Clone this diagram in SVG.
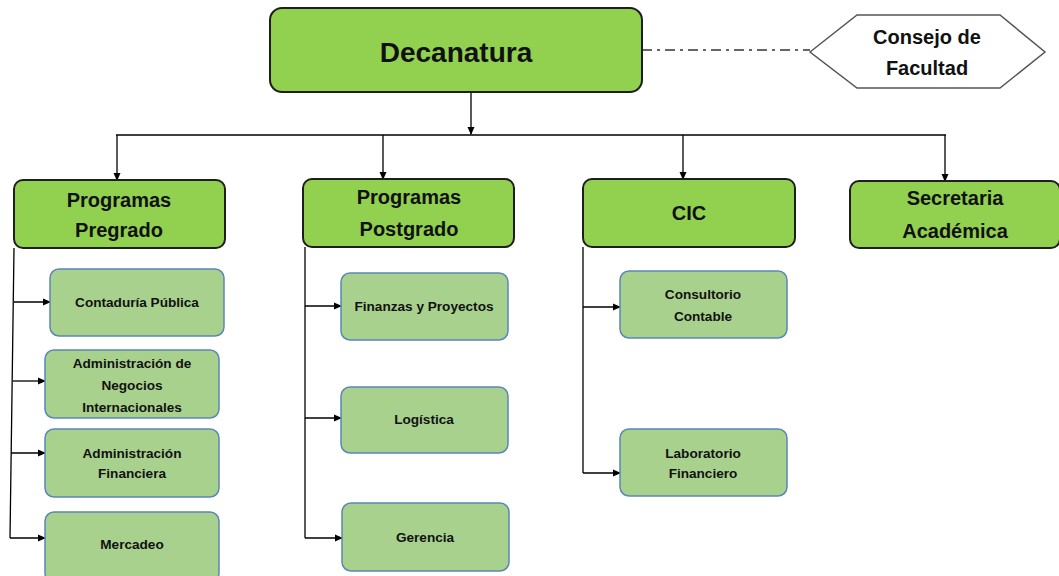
<svg xmlns="http://www.w3.org/2000/svg" width="1059" height="576" viewBox="0 0 1059 576">
<style>
.main{fill:#92d050;stroke:#1e1e1e;stroke-width:2}
.sub{fill:#a9d18e;stroke:#5b87b8;stroke-width:1.5}
.hex{fill:#ffffff;stroke:#555555;stroke-width:1.5}
text{font-family:"Liberation Sans",Arial,sans-serif;font-weight:bold;fill:#111;text-anchor:middle}
.t28{font-size:28px}
.t20{font-size:20px}
.t13{font-size:13.6px}
.c{fill:none;stroke:#000;stroke-width:1.3}
.dd{fill:none;stroke:#666;stroke-width:2;stroke-dasharray:10 5 3 5}
</style>
<defs>
<marker id="ah" markerWidth="8" markerHeight="8" refX="7" refY="4" orient="auto" markerUnits="userSpaceOnUse">
<path d="M0,0.5 L8,4 L0,7.5 Z" fill="#000"/>
</marker>
</defs>
<g id="connectors">
<line class="dd" x1="642" y1="50" x2="810" y2="50"/>
<line class="c" x1="471" y1="92" x2="471" y2="134" marker-end="url(#ah)"/>
<line class="c" x1="116" y1="135" x2="946" y2="135"/>
<line class="c" x1="117" y1="135" x2="117" y2="180" marker-end="url(#ah)"/>
<line class="c" x1="383" y1="135" x2="383" y2="179" marker-end="url(#ah)"/>
<line class="c" x1="683" y1="135" x2="683" y2="179" marker-end="url(#ah)"/>
<line class="c" x1="945" y1="135" x2="945" y2="181" marker-end="url(#ah)"/>
<polyline class="c" points="14,248 10,538"/>
<line class="c" x1="14" y1="302" x2="50" y2="302" marker-end="url(#ah)"/>
<line class="c" x1="13" y1="381" x2="45" y2="381" marker-end="url(#ah)"/>
<line class="c" x1="11" y1="453" x2="45" y2="453" marker-end="url(#ah)"/>
<line class="c" x1="10" y1="538" x2="45" y2="538" marker-end="url(#ah)"/>
<line class="c" x1="305" y1="247" x2="305" y2="538"/>
<line class="c" x1="305" y1="306" x2="341" y2="306" marker-end="url(#ah)"/>
<line class="c" x1="305" y1="418" x2="341" y2="418" marker-end="url(#ah)"/>
<line class="c" x1="305" y1="538" x2="342" y2="538" marker-end="url(#ah)"/>
<line class="c" x1="583" y1="247" x2="583" y2="473"/>
<line class="c" x1="583" y1="307" x2="620" y2="307" marker-end="url(#ah)"/>
<line class="c" x1="583" y1="473" x2="620" y2="473" marker-end="url(#ah)"/>
</g>
<g id="decanatura">
<rect class="main" x="270" y="8" width="372" height="84" rx="12"/>
<text class="t28" x="456" y="62">Decanatura</text>
</g>
<g id="consejo">
<polygon class="hex" points="810,52 857,15 1000,15 1045,52 1000,88 857,88"/>
<text class="t20" x="927" y="44">Consejo de</text>
<text class="t20" x="927" y="75">Facultad</text>
</g>
<g id="pregrado">
<rect class="main" x="14" y="180" width="211" height="68" rx="9"/>
<text class="t20" x="119" y="207">Programas</text>
<text class="t20" x="119" y="237">Pregrado</text>
</g>
<g id="postgrado">
<rect class="main" x="303" y="179" width="211" height="68" rx="9"/>
<text class="t20" x="409" y="204">Programas</text>
<text class="t20" x="409" y="236">Postgrado</text>
</g>
<g id="cic">
<rect class="main" x="583" y="179" width="212" height="68" rx="9"/>
<text class="t20" x="689" y="220">CIC</text>
</g>
<g id="secretaria">
<rect class="main" x="850" y="181" width="210" height="67" rx="9"/>
<text class="t20" x="955" y="205">Secretaria</text>
<text class="t20" x="955" y="238">Académica</text>
</g>
<g id="contaduria">
<rect class="sub" x="50" y="269" width="174" height="67" rx="9"/>
<text class="t13" x="137" y="307">Contaduría Pública</text>
</g>
<g id="negocios">
<rect class="sub" x="45" y="350" width="174" height="68" rx="9"/>
<text class="t13" x="132" y="368">Administración de</text>
<text class="t13" x="132" y="390">Negocios</text>
<text class="t13" x="132" y="412">Internacionales</text>
</g>
<g id="financiera">
<rect class="sub" x="45" y="429" width="174" height="68" rx="9"/>
<text class="t13" x="132" y="458">Administración</text>
<text class="t13" x="132" y="478">Financiera</text>
</g>
<g id="mercadeo">
<rect class="sub" x="45" y="512" width="174" height="70" rx="9"/>
<text class="t13" x="132" y="549">Mercadeo</text>
</g>
<g id="finanzas">
<rect class="sub" x="341" y="273" width="167" height="67" rx="9"/>
<text class="t13" x="424" y="311">Finanzas y Proyectos</text>
</g>
<g id="logistica">
<rect class="sub" x="341" y="387" width="167" height="66" rx="9"/>
<text class="t13" x="424" y="424">Logística</text>
</g>
<g id="gerencia">
<rect class="sub" x="342" y="503" width="167" height="68" rx="9"/>
<text class="t13" x="425" y="542">Gerencia</text>
</g>
<g id="consultorio">
<rect class="sub" x="620" y="271" width="167" height="67" rx="9"/>
<text class="t13" x="703" y="299">Consultorio</text>
<text class="t13" x="703" y="321">Contable</text>
</g>
<g id="laboratorio">
<rect class="sub" x="620" y="429" width="167" height="67" rx="9"/>
<text class="t13" x="703" y="458">Laboratorio</text>
<text class="t13" x="703" y="478">Financiero</text>
</g>
</svg>
